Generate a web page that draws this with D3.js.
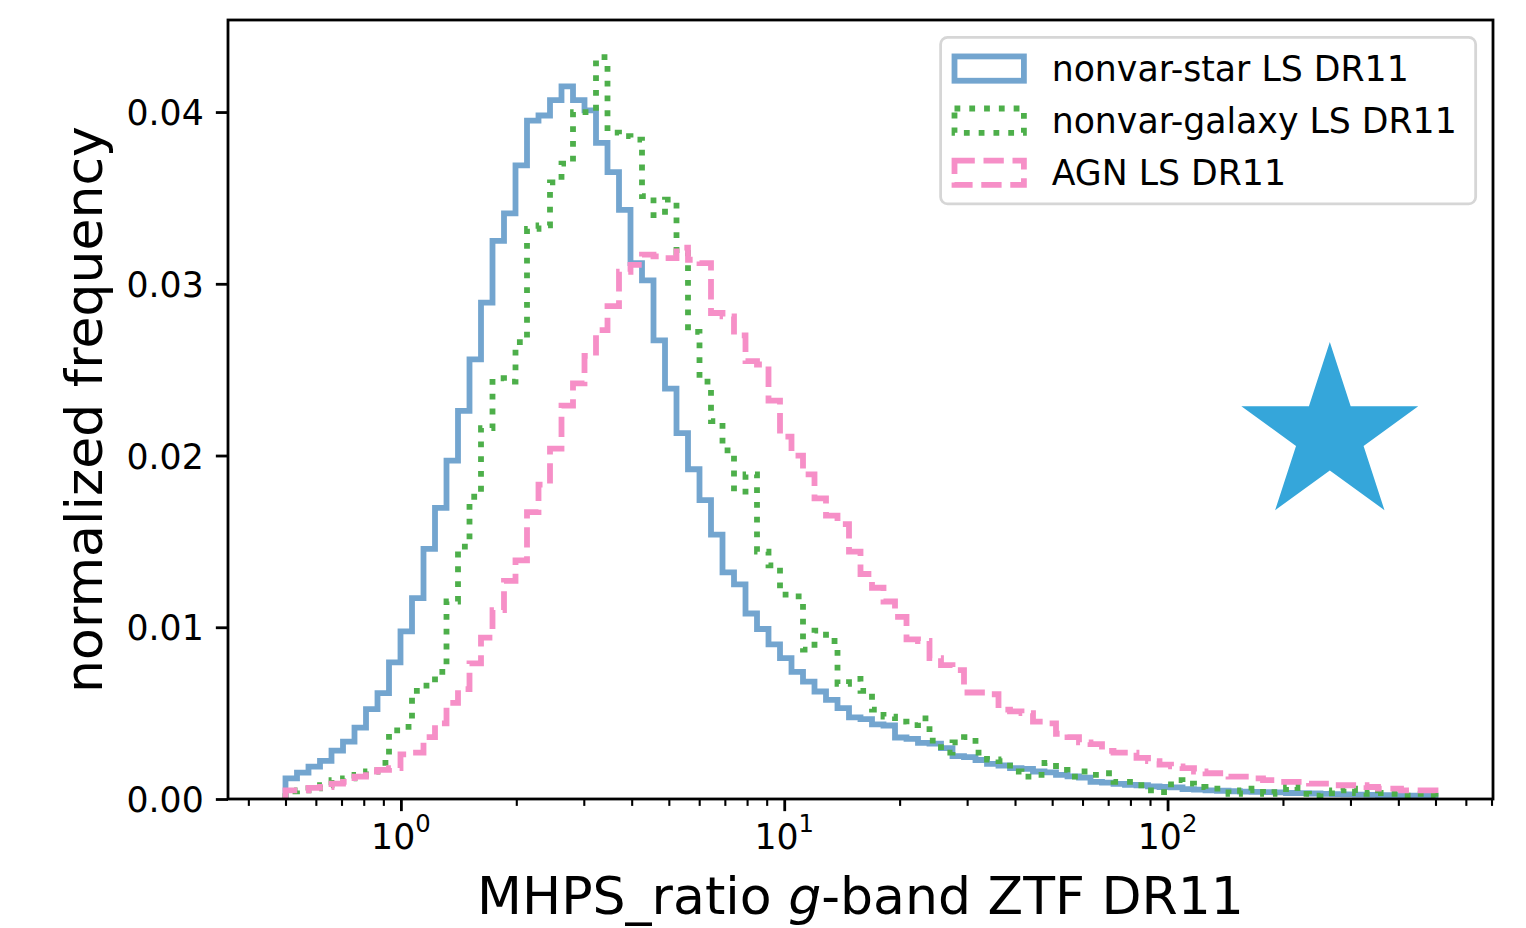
<!DOCTYPE html>
<html>
<head>
<meta charset="utf-8">
<script src="https://cdn.jsdelivr.net/npm/d3@7"></script>
<style>
  body { margin: 0; background: #fff; }
  svg { display: block; font-family: "DejaVu Sans", sans-serif; }
</style>
</head>
<body>
<svg id="chart" width="1526" height="928"></svg>
<script>
// histogram binning (log-spaced, as in the source figure)
var binLo = 0.5, binHi = 500, nBins = 100;

// normalized frequency per bin
var starVals = [
  0.0012, 0.00154, 0.00189, 0.00222, 0.00282, 0.00334, 0.00416, 0.00523, 0.00616, 0.00795,
  0.00976, 0.0117, 0.01456, 0.01695, 0.0197, 0.0226, 0.0256, 0.0289, 0.0325, 0.0341,
  0.0369, 0.0395, 0.0398, 0.0407, 0.0415, 0.0407, 0.0401, 0.0382, 0.0365, 0.0343,
  0.0312, 0.0302, 0.0267, 0.0239, 0.0213, 0.0192, 0.0174, 0.0154, 0.0132, 0.0125,
  0.0108, 0.0099, 0.0090, 0.0082, 0.0074, 0.00684, 0.00626, 0.00577, 0.00529, 0.00475,
  0.00465, 0.00435, 0.00428, 0.00358, 0.0035, 0.00327, 0.00322, 0.00296, 0.0025, 0.00244,
  0.00227, 0.00205, 0.00195, 0.0018, 0.00175, 0.0016, 0.00155, 0.0014, 0.00132, 0.00125,
  0.0010, 0.00095, 0.00088, 0.00082, 0.0008, 0.00074, 0.0007, 0.00068, 0.00058, 0.00055,
  0.0005, 0.00048, 0.00045, 0.00043, 0.00042, 0.0004, 0.00038, 0.00035, 0.00034, 0.00032,
  0.0003, 0.00028, 0.00027, 0.00025, 0.00024, 0.00023, 0.00022, 0.0002, 0.0002, 0.00018
];
var galaxyVals = [
  0.00045, 0.0005, 0.00062, 0.0008, 0.0011, 0.0012, 0.0014, 0.0016, 0.0021, 0.0040,
  0.0042, 0.0063, 0.0066, 0.0074, 0.0115, 0.0147, 0.0176, 0.0216, 0.0245, 0.0243,
  0.0266, 0.0332, 0.0334, 0.0359, 0.0370, 0.0400, 0.0400, 0.0432, 0.0388, 0.0386,
  0.0384, 0.0351, 0.0340, 0.0349, 0.0318, 0.0272, 0.0243, 0.0220, 0.0203, 0.0179,
  0.0189, 0.0144, 0.0136, 0.0119, 0.0118, 0.0087, 0.0098, 0.0092, 0.0067, 0.0070,
  0.0063, 0.0052, 0.0048, 0.0045, 0.0043, 0.0047, 0.0034, 0.0027, 0.0033, 0.0036,
  0.0027, 0.0023, 0.0022, 0.0016, 0.0013, 0.0014, 0.0021, 0.0017, 0.0013, 0.0016,
  0.0014, 0.0015, 0.0010, 0.0010, 0.0008, 0.0005, 0.0004, 0.0011, 0.0009, 0.0007,
  0.0006, 0.0006, 0.0003, 0.0005, 0.0006, 0.0003, 0.0004, 0.0007, 0.0003, 0.0002,
  0.00035, 0.0005, 0.0006, 0.00035, 0.0003, 0.00035, 0.0003, 0.0002, 0.0003, 0.0002
];
var agnVals = [
  0.0005, 0.0005, 0.00065, 0.0007, 0.0009, 0.0010, 0.0013, 0.0016, 0.0017, 0.0018,
  0.0026, 0.0027, 0.0036, 0.0044, 0.0056, 0.0064, 0.0079, 0.0094, 0.0110, 0.0127,
  0.0139, 0.0167, 0.0183, 0.0204, 0.0229, 0.0242, 0.0258, 0.0273, 0.0287, 0.0307,
  0.0311, 0.0317, 0.0316, 0.0315, 0.0321, 0.0314, 0.0312, 0.0283, 0.0281, 0.0270,
  0.0255, 0.0253, 0.0232, 0.0211, 0.0200, 0.0189, 0.0175, 0.0165, 0.0160, 0.0144,
  0.0131, 0.0123, 0.0115, 0.0106, 0.0093, 0.0092, 0.0082, 0.0078, 0.0075, 0.0062,
  0.0062, 0.0061, 0.0052, 0.0051, 0.0050, 0.0045, 0.0044, 0.0038, 0.0036, 0.0033,
  0.0032, 0.0028, 0.0027, 0.0027, 0.0024, 0.0022, 0.0020, 0.0019, 0.0018, 0.0016,
  0.0015, 0.0015, 0.0013, 0.0013, 0.0012, 0.0011, 0.0010, 0.0010, 0.0010, 0.0009,
  0.0009, 0.0008, 0.0008, 0.0008, 0.0007, 0.0006, 0.0006, 0.0005, 0.0005, 0.0005
];
var seriesNames = ["nonvar-star LS DR11", "nonvar-galaxy LS DR11", "AGN LS DR11"];

var yTicks = [0, 0.01, 0.02, 0.03, 0.04];
var xMajorTicks = [1, 10, 100];
var xMinorTicks = [0.4, 0.5, 0.6, 0.7, 0.8, 0.9, 2, 3, 4, 5, 6, 7, 8, 9,
                   20, 30, 40, 50, 60, 70, 80, 90, 200, 300, 400, 500, 600, 700];
var starPoint = {x: 265, y: 0.0212};

var W = 1526, H = 928;
var margin = {left: 228, right: 33, top: 20, bottom: 129};
var fs = 34.7;          // 10pt at the figure dpi
var lw = 5.8;           // histogram line width
var svg = d3.select("#chart");

var edges = d3.range(nBins + 1).map(function(i) {
  return binLo * Math.pow(binHi / binLo, i / nBins);
});
var logPad = 0.05 * Math.log10(binHi / binLo);
var x = d3.scaleLog()
  .domain([binLo / Math.pow(10, logPad), binHi * Math.pow(10, logPad)])
  .range([margin.left, W - margin.right]);
var yMax = d3.max([starVals, galaxyVals, agnVals], function(a) { return d3.max(a); }) * 1.05;
var y = d3.scaleLinear().domain([0, yMax]).range([H - margin.bottom, margin.top]);

var series = [
  {name: seriesNames[0], vals: starVals,   color: "#73a5cf", dash: null},
  {name: seriesNames[1], vals: galaxyVals, color: "#4daf4a", dash: (lw * 1) + " " + (lw * 1.55)},
  {name: seriesNames[2], vals: agnVals,    color: "#f68fc7", dash: (lw * 3.5) + " " + (lw * 1.5)}
];

var stepPoints = function(vals) {
  var pts = [[edges[0], 0]];
  vals.forEach(function(v, i) {
    pts.push([edges[i], v]);
    pts.push([edges[i + 1], v]);
  });
  pts.push([edges[nBins], 0]);
  return pts;
};
var line = d3.line()
  .x(function(d) { return x(d[0]); })
  .y(function(d) { return y(d[1]); });

// Draw histograms
svg.append("g").selectAll("path")
  .data(series)
  .enter().append("path")
  .attr("d", function(d) { return line(stepPoints(d.vals)); })
  .attr("fill", "none")
  .attr("stroke", function(d) { return d.color; })
  .attr("stroke-width", lw)
  .attr("stroke-linejoin", "miter")
  .attr("stroke-dasharray", function(d) { return d.dash; });

// Star marker
var starR = 93;
svg.append("path")
  .attr("d", d3.symbol().type(d3.symbolStar).size(starR * starR / 0.8908130915292852)())
  .attr("transform", "translate(" + x(starPoint.x) + "," + y(starPoint.y) + ")")
  .attr("fill", "#35a6da");

// Axes
var tickLen = 12.15, tickPad = 12.15;
var yAxis = d3.axisLeft(y).tickValues(yTicks).tickSize(tickLen).tickPadding(tickPad)
  .tickFormat(d3.format(".2f"));
var gy = svg.append("g").attr("transform", "translate(" + margin.left + ",0)").call(yAxis);
var xMajor = d3.axisBottom(x).tickValues(xMajorTicks).tickSize(tickLen).tickFormat(function() { return ""; });
var xMinor = d3.axisBottom(x).tickValues(xMinorTicks).tickSize(6.9).tickFormat(function() { return ""; });
var gxMin = svg.append("g").attr("transform", "translate(0," + (H - margin.bottom) + ")").call(xMinor);
var gx = svg.append("g").attr("transform", "translate(0," + (H - margin.bottom) + ")").call(xMajor);

[gy, gx, gxMin].forEach(function(g) {
  g.select(".domain").remove();
  g.selectAll("line").attr("stroke", "#000");
});
gy.selectAll("line").attr("stroke-width", 2.8);
gx.selectAll("line").attr("stroke-width", 2.8);
gxMin.selectAll("line").attr("stroke-width", 2.1);
gy.selectAll("text").attr("font-size", fs).attr("fill", "#000")
  .attr("font-family", "DejaVu Sans").attr("dy", "0.36em");

// log tick labels 10^n
var xl = svg.append("g").selectAll("text")
  .data(xMajorTicks)
  .enter().append("text")
  .attr("x", function(d) { return x(d); })
  .attr("y", 849)
  .attr("text-anchor", "middle")
  .attr("font-size", fs);
xl.append("tspan").text("10");
xl.append("tspan").attr("font-size", fs * 0.7).attr("dy", -16.6)
  .text(function(d) { return Math.round(Math.log10(d)); });

// Frame
svg.append("rect")
  .attr("x", margin.left).attr("y", margin.top)
  .attr("width", W - margin.left - margin.right)
  .attr("height", H - margin.top - margin.bottom)
  .attr("fill", "none").attr("stroke", "#000").attr("stroke-width", 2.8);

// Axis labels
var xlab = svg.append("text")
  .attr("x", (margin.left + W - margin.right) / 2)
  .attr("y", 914)
  .attr("text-anchor", "middle")
  .attr("font-size", fs * 1.5);
xlab.append("tspan").text("MHPS_ratio ");
xlab.append("tspan").attr("font-style", "italic").text("g");
xlab.append("tspan").text("-band ZTF DR11");

svg.append("text")
  .attr("transform", "translate(102," + ((margin.top + H - margin.bottom) / 2) + ") rotate(-90)")
  .attr("text-anchor", "middle")
  .attr("font-size", fs * 1.5)
  .text("normalized frequency");

// Legend
var leg = svg.append("g");
var legFrame = leg.append("rect");
var legTexts = leg.selectAll("text.lab")
  .data(series)
  .enter().append("text")
  .attr("class", "lab")
  .attr("font-size", fs)
  .text(function(d) { return d.name; });
var textW = d3.max(legTexts.nodes(), function(n) { return n.getComputedTextLength(); });
var legW = 0.4 * fs * 2 + 2 * fs + 0.8 * fs + textW + 5;
var legH = 0.4 * fs * 2 + series.length * fs + (series.length - 1) * 0.5 * fs;
var legRight = x.range()[1] - 0.5 * fs;
var legTop = y.range()[1] + 0.5 * fs;
var legLeft = legRight - legW;
legFrame
  .attr("x", legLeft).attr("y", legTop)
  .attr("width", legW).attr("height", legH)
  .attr("rx", 0.2 * fs).attr("ry", 0.2 * fs)
  .attr("fill", "#fff").attr("fill-opacity", 0.8)
  .attr("stroke", "#d6d6d6").attr("stroke-width", 2.8);
var rowCenter = function(i) { return legTop + 0.4 * fs + i * 1.5 * fs + 0.5 * fs; };
legTexts
  .attr("x", legLeft + 0.4 * fs + 2 * fs + 0.8 * fs)
  .attr("y", function(d, i) { return rowCenter(i) + 0.355 * fs; });
leg.selectAll("rect.handle")
  .data(series)
  .enter().append("rect")
  .attr("class", "handle")
  .attr("x", legLeft + 0.4 * fs)
  .attr("y", function(d, i) { return rowCenter(i) - 0.35 * fs; })
  .attr("width", 2 * fs)
  .attr("height", 0.7 * fs)
  .attr("fill", "none")
  .attr("stroke", function(d) { return d.color; })
  .attr("stroke-width", lw)
  .attr("stroke-dasharray", function(d) { return d.dash; });
</script>
</body>
</html>
